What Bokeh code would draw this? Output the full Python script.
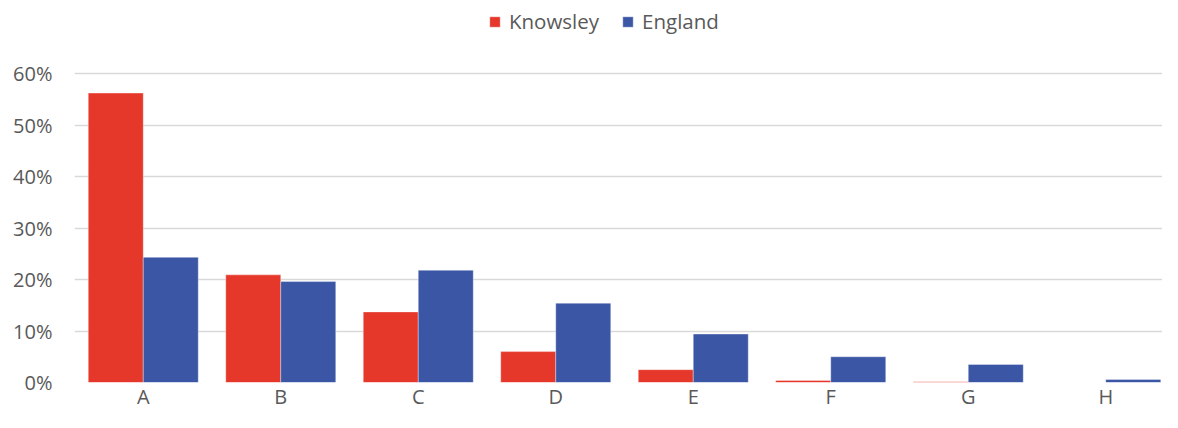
from bokeh.plotting import figure
from bokeh.models import Range1d, FixedTicker, PrintfTickFormatter, Legend, LegendItem
from bokeh.embed import file_html
from bokeh.resources import INLINE
import numpy as np

categories = ["A", "B", "C", "D", "E", "F", "G", "H"]
knowsley = [56.2, 20.9, 13.7, 6.0, 2.5, 0.4, 0.15, 0.0]
england = [24.3, 19.6, 21.8, 15.4, 9.4, 5.0, 3.5, 0.6]
y_ticks = [0, 10, 20, 30, 40, 50, 60]
series_names = ["Knowsley", "England"]
colors = ["#E5372A", "#3B56A4"]

FONT = "Open Sans"
TXT = "#595959"

W, H = 1162, 412
left = 74
cat_px = 137.5
frame_h = 382.0   # actual frame height (bottom panel needs ~30px for labels)
top_px = 309.0    # pixels from 0% to 60%

idx = np.arange(len(categories))

p = figure(width=W, height=H,
           x_range=Range1d(0, (W - left) / cat_px),
           y_range=Range1d(0, 60 * frame_h / top_px),
           min_border_left=left, min_border_right=0, min_border_top=0,
           min_border_bottom=int(H - frame_h),
           output_backend="svg", toolbar_location=None)
p.outline_line_color = None
p.background_fill_color = "white"
p.border_fill_color = "white"

r1 = p.vbar(x=idx + 0.3, top=knowsley, width=0.4, fill_color=colors[0],
            line_color="white", line_alpha=0.35, line_width=1)
r2 = p.vbar(x=idx + 0.7, top=england, width=0.4, fill_color=colors[1],
            line_color="white", line_alpha=0.35, line_width=1)

p.xgrid.visible = False
p.ygrid.ticker = FixedTicker(ticks=y_ticks)
p.ygrid.grid_line_color = "#D9D9D9"
p.ygrid.grid_line_width = 1.6

p.yaxis.ticker = FixedTicker(ticks=y_ticks)
p.yaxis.formatter = PrintfTickFormatter(format="%d%%")
p.xaxis.ticker = FixedTicker(ticks=list(idx + 0.5))
p.xaxis.major_label_overrides = {float(i + 0.5): c for i, c in enumerate(categories)}

for ax in (p.xaxis, p.yaxis):
    ax.axis_line_color = None
    ax.major_tick_line_color = None
    ax.minor_tick_line_color = None
    ax.major_tick_out = 0
    ax.major_tick_in = 0
    ax.minor_tick_out = 0
    ax.major_label_text_font = FONT
    ax.major_label_text_font_size = "20px"
    ax.major_label_text_color = TXT
p.yaxis.major_label_standoff = 22
p.xaxis.major_label_standoff = 0

legend = Legend(items=[LegendItem(label=series_names[0], renderers=[r1]),
                       LegendItem(label=series_names[1], renderers=[r2])],
                location=(414, 347), orientation="horizontal",
                glyph_width=13, glyph_height=13, label_standoff=8, spacing=22,
                padding=0, margin=0, border_line_color=None, background_fill_alpha=0,
                label_text_font=FONT, label_text_font_size="20.5px", label_text_color=TXT)
p.add_layout(legend)

open("out.html", "w").write(file_html(p, INLINE))
